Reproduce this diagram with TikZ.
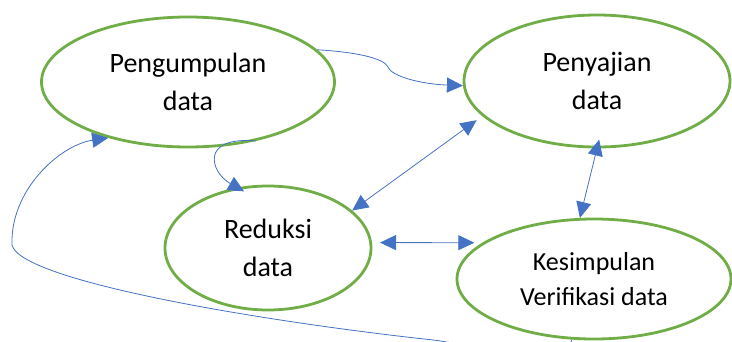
\documentclass[tikz,border=0pt]{standalone}
\usepackage{fontspec}
\setmainfont{Carlito}
\usepackage{tikz}
\usetikzlibrary{shapes.geometric,arrows.meta}
\definecolor{stagegreen}{HTML}{70AD47}
\definecolor{linkblue}{HTML}{4472C4}

\begin{document}
\begin{tikzpicture}[x=1pt,y=-1pt,
    stage/.style={shape=ellipse, draw=stagegreen, line width=2.8pt, inner sep=0pt,
      align=center, font=\fontsize{28}{38}\selectfont},
    link/.style={draw=linkblue, line width=0.8pt, -{Triangle[length=16pt,width=15pt]}},
    both/.style={link, {Triangle[length=16pt,width=15pt]}-{Triangle[length=16pt,width=15pt]}}]
    \useasboundingbox (0,0) rectangle (732,341);
    \clip (0,0) rectangle (732,341);

    \node[stage, minimum width=293pt, minimum height=130pt] (peng) at (188,82) {Pengumpulan\\data};
    \node[stage, minimum width=266pt, minimum height=132pt] (pen) at (597,81) {Penyajian\\data};
    \node[stage, minimum width=206pt, minimum height=124pt] (red) at (268,248) {Reduksi\\data};
    \node[stage, minimum width=274pt, minimum height=120pt,
      font=\fontsize{26}{35}\selectfont] (kes) at (594,279) {Kesimpulan\\Verifikasi data};

    \draw[link] (peng.14) .. controls (355,52) and (384,58) .. (388,67)
      .. controls (391,76) and (420,84) .. (pen.182);
    \draw[link, shorten >=-8pt] (peng.-41) .. controls (200,136) and (210,172) .. (red.117);
    \draw[both, shorten >=7pt] (red.24) -- (pen.197);
    \draw[both, shorten <=8pt, shorten >=8pt] (red.3) -- (kes.162);
    \draw[both, shorten <=-9pt] (pen.south) -- (kes.103);

    % back to the start
    \draw[link] (kes.-110) .. controls (560,372) and (470,344) .. (433,340)
      .. controls (250,320) and (20,280) .. (12,245)
      .. controls (10,190) and (60,145) .. (peng.-145);
  \end{tikzpicture}
\end{document}
